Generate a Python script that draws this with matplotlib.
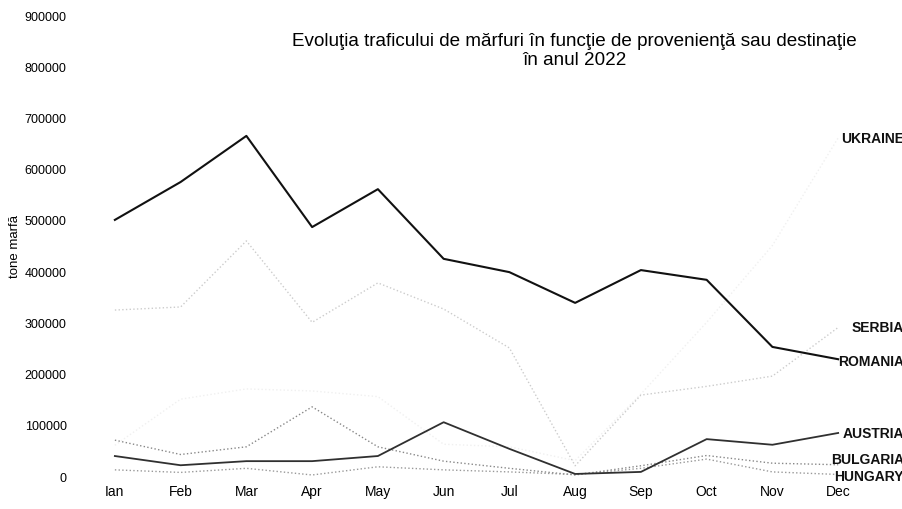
import matplotlib
matplotlib.use("Agg")
import matplotlib.pyplot as plt

plt.rcParams['font.family'] = ['Liberation Sans', 'DejaVu Sans']

months = ['Ian', 'Feb', 'Mar', 'Apr', 'May', 'Jun', 'Jul', 'Aug', 'Sep', 'Oct', 'Nov', 'Dec']

# tone marfa (faint series are rough estimates)
romania = [500000, 574000, 664000, 486000, 560000, 424000, 398000, 338000, 402000, 383000, 252000, 228000]
serbia = [324000, 330000, 459000, 300000, 377000, 326000, 250000, 20000, 158000, 175000, 195000, 290000]
ukraine = [60000, 150000, 170000, 166000, 155000, 62000, 57000, 30000, 160000, 300000, 450000, 660000]
austria = [39000, 21000, 29000, 29000, 39000, 105000, 53000, 4000, 8000, 72000, 61000, 84000]
bulgaria = [70000, 42000, 57000, 135000, 57000, 29000, 15000, 2000, 20000, 40000, 25000, 22000]
hungary = [12000, 7000, 15000, 2000, 18000, 12000, 8000, 3000, 15000, 33000, 8000, 3000]

fig = plt.figure(figsize=(9.03, 5.10), dpi=100)
ax = fig.add_axes([0.0908, 0.0647, 0.8738, 0.9039])
x = range(len(months))

ax.plot(x, ukraine, color='#f0f0f0', lw=1.0, ls=':')
ax.plot(x, serbia, color='#cccccc', lw=1.0, ls=':')
ax.plot(x, bulgaria, color='#888888', lw=1.0, ls=':')
ax.plot(x, hungary, color='#999999', lw=1.0, ls=':')
ax.plot(x, austria, color='#303030', lw=1.3)
ax.plot(x, romania, color='#111111', lw=1.5)

# series names next to the last point
names = [('UKRAINE', ukraine, 0), ('SERBIA', serbia, 0), ('ROMANIA', romania, -4000),
         ('AUSTRIA', austria, 0), ('BULGARIA', bulgaria, 12000), ('HUNGARY', hungary, -3000)]
for name, vals, dy in names:
    ax.text(12.0, vals[-1] + dy, name, ha='right', va='center', fontsize=10,
            fontweight='bold', color='#111111', clip_on=False)

ax.set_xlim(-0.5, 11.5)
ax.set_ylim(0, 900000)
ax.set_xticks(list(x))
ax.set_xticklabels(months, fontsize=10)
ax.set_yticks(range(0, 900001, 100000))
ax.set_yticklabels([str(v) for v in range(0, 900001, 100000)], fontsize=9)
ax.tick_params(length=0)
ax.tick_params(axis='x', pad=6)
ax.tick_params(axis='y', pad=11)
for s in ax.spines.values():
    s.set_visible(False)

ax.set_ylabel('tone marfă', fontsize=9.5)
ax.yaxis.set_label_coords(-0.077, 0.5)

fig.text(0.636, 0.90, 'Evoluţia traficului de mărfuri în funcţie de provenienţă sau destinaţie\nîn anul 2022',
         ha='center', va='center', fontsize=13.6, linespacing=1.2)

fig.savefig('out.png', dpi=100)
